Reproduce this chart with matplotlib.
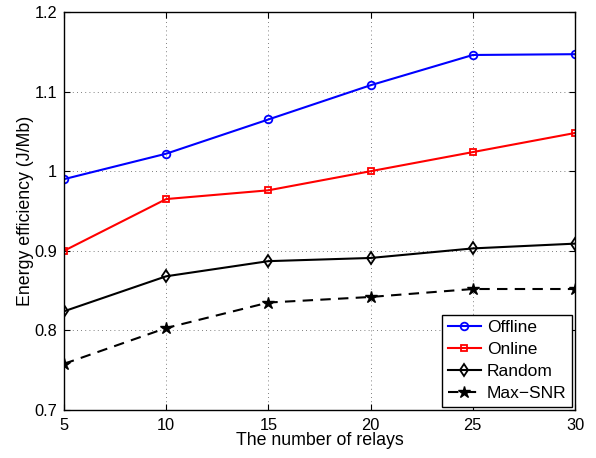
import matplotlib
matplotlib.use("Agg")
import matplotlib.pyplot as plt

plt.rcParams['font.family'] = ['Liberation Sans', 'DejaVu Sans']

relays = [5, 10, 15, 20, 25, 30]
offline = [0.990, 1.022, 1.065, 1.108, 1.146, 1.147]
online = [0.900, 0.965, 0.976, 1.000, 1.024, 1.048]
random_sel = [0.824, 0.868, 0.887, 0.891, 0.903, 0.909]
max_snr = [0.758, 0.803, 0.835, 0.842, 0.852, 0.852]

fig = plt.figure(figsize=(5.96, 4.58), dpi=100)
ax = fig.add_axes([64/596, 48/458, (575-64)/596, (410-12)/458])

ax.plot(relays, offline, color='#0000ff', lw=1.5, marker='o', ms=5.5, mfc='none', mew=1.3, label='Offline')
ax.plot(relays, online, color='#ff0000', lw=1.5, marker='s', ms=5, mfc='none', mew=1.3, label='Online')
ax.plot(relays, random_sel, color='black', lw=1.5, marker='d', ms=6.5, mfc='none', mew=1.3, label='Random')
ax.plot(relays, max_snr, color='black', lw=1.5, ls=(0, (5, 3.5)), marker='*', ms=9, mfc='black', label='Max\u2212SNR')

ax.set_xlim(5, 30)
ax.set_ylim(0.7, 1.2)
ax.set_xticks([5, 10, 15, 20, 25, 30])
ax.set_yticks([0.7, 0.8, 0.9, 1.0, 1.1, 1.2])
ax.set_yticklabels(['0.7', '0.8', '0.9', '1', '1.1', '1.2'])
ax.tick_params(direction='in', labelsize=11.8, length=4, top=True, right=True)
ax.tick_params(axis='x', pad=6)
ax.tick_params(axis='y', pad=5)
ax.grid(True, color='#555555', ls=(0, (1, 4)), lw=0.6)
for s in ax.spines.values():
    s.set_linewidth(1.0)

ax.set_xlabel('The number of relays', fontsize=12.8, labelpad=-1)
ax.set_ylabel('Energy efficiency (J/Mb)', fontsize=12.8, labelpad=0)

leg = ax.legend(loc='lower right', fontsize=12.5, fancybox=False, edgecolor='black',
                framealpha=1, borderaxespad=0.2, handlelength=1.9, labelspacing=0.4,
                borderpad=0.3, handletextpad=0.35)
leg.get_frame().set_linewidth(1.0)

fig.savefig('out.png', dpi=100)
